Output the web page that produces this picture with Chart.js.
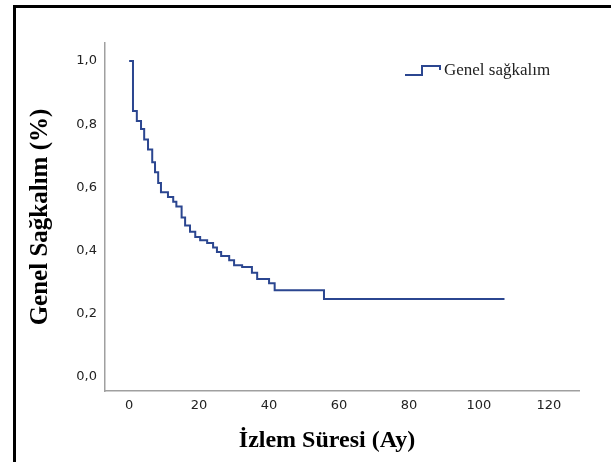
<!DOCTYPE html>
<html>
<head>
<meta charset="utf-8">
<script src="https://cdn.jsdelivr.net/npm/chart.js@4"></script>
<style>
  body { margin: 0; background: #fff; }
  #wrap { position: relative; width: 611px; height: 462px; overflow: hidden; }
  #frame { position: absolute; left: 13px; top: 5px; right: -10px; bottom: -10px;
           border-left: 3px solid #000; border-top: 3px solid #000; pointer-events: none; }
  canvas { position: absolute; left: 0; top: 0; }
</style>
</head>
<body>
<div id="wrap">
  <canvas id="kmChart" width="611" height="462"></canvas>
  <div id="frame"></div>
</div>
<script>
// ================= DATA =================
const seriesName = 'Genel sağkalım';
const xTitle = 'İzlem Süresi (Ay)';
const yTitle = 'Genel Sağkalım (%)';

// event times (months) and survival after each step
const months = [0, 1.1, 2.2, 3.4, 4.3, 5.4, 6.6, 7.4, 8.3, 9.1, 11.1, 12.6, 13.5, 15.0, 16.0,
  17.4, 18.9, 20.3, 22.3, 24.0, 25.1, 26.3, 28.6, 30.0, 32.3, 35.1, 36.6, 40.0, 41.6, 55.7, 107.3];
const survival = [1.0, 0.842, 0.81, 0.785, 0.752, 0.72, 0.68, 0.648, 0.614, 0.585, 0.57, 0.555, 0.54, 0.505, 0.48,
  0.46, 0.443, 0.433, 0.424, 0.41, 0.396, 0.383, 0.37, 0.354, 0.348, 0.33, 0.31, 0.297, 0.275, 0.247, 0.247];

const xTicks = [0, 20, 40, 60, 80, 100, 120];
const yTicks = [0, 0.2, 0.4, 0.6, 0.8, 1.0];

const lineColor = '#2b4690';
const axisColor = '#a0a0a0';

// ================= CHART =================
Chart.defaults.font.family = 'DejaVu Sans';
Chart.defaults.color = '#222';

// legend inside plot + x title, drawn at fixed spots like the original
const extras = {
  id: 'extras',
  afterDraw(chart) {
    const ctx = chart.ctx;
    const a = chart.chartArea;
    ctx.save();
    // legend icon (step shape)
    const lx = a.right - 174, ly = a.top + 32;
    ctx.strokeStyle = lineColor;
    ctx.lineWidth = 2;
    ctx.beginPath();
    ctx.moveTo(lx, ly);
    ctx.lineTo(lx + 17, ly);
    ctx.lineTo(lx + 17, ly - 9);
    ctx.lineTo(lx + 35, ly - 9);
    ctx.lineTo(lx + 35, ly - 5);
    ctx.stroke();
    ctx.fillStyle = '#222';
    ctx.font = '17px "Liberation Serif"';
    ctx.textBaseline = 'middle';
    ctx.textAlign = 'left';
    ctx.fillText(chart.data.datasets[0].label, lx + 39, ly - 4);
    // x axis title
    ctx.font = 'bold 24px "Liberation Serif"';
    ctx.fillStyle = '#000';
    ctx.textAlign = 'center';
    ctx.fillText(xTitle, a.left + 222, 441);
    ctx.restore();
  }
};

new Chart(document.getElementById('kmChart'), {
  type: 'line',
  data: {
    datasets: [{
      label: seriesName,
      data: months.map((m, i) => ({ x: m, y: survival[i] })),
      borderColor: lineColor,
      borderWidth: 2,
      pointRadius: 0,
      stepped: 'before',
      fill: false
    }]
  },
  options: {
    responsive: false,
    animation: false,
    layout: { padding: { top: 43, right: 32, left: 0, bottom: 0 } },
    plugins: {
      legend: { display: false },
      tooltip: { enabled: false }
    },
    scales: {
      x: {
        type: 'linear',
        min: -6.9,
        max: 128.6,
        afterBuildTicks: s => { s.ticks = xTicks.map(v => ({ value: v })); },
        afterFit: s => { s.height = 71; },
        grid: { display: true, drawOnChartArea: false, drawTicks: false },
        border: { display: true, color: axisColor, width: 1.5 },
        ticks: { padding: 7, font: { size: 13 }, color: '#222', maxRotation: 0 }
      },
      y: {
        min: -0.044,
        max: 1.057,
        afterBuildTicks: s => { s.ticks = yTicks.map(v => ({ value: v })); },
        afterFit: s => { s.width = 105; },
        grid: { display: true, drawOnChartArea: false, drawTicks: false },
        border: { display: true, color: axisColor, width: 1.5 },
        ticks: {
          padding: 8,
          font: { size: 13 },
          color: '#222',
          callback: v => v.toFixed(1).replace('.', ',')
        },
        title: {
          display: true,
          text: yTitle,
          color: '#000',
          font: { family: 'Liberation Serif', size: 25, weight: 'bold', lineHeight: 1 },
          padding: { top: 28, bottom: 0 }
        }
      }
    }
  },
  plugins: [extras]
});
</script>
</body>
</html>
